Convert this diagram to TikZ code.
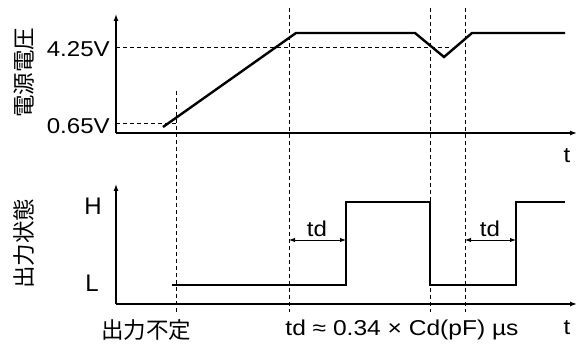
\documentclass[tikz,border=0pt]{standalone}
\usepackage{fontspec}
\setmainfont{Liberation Sans}
\newfontfamily\cjk{Noto Sans CJK JP}
\usetikzlibrary{arrows.meta}
\begin{document}
\begin{tikzpicture}[x=1pt,y=-1pt,
  axis/.style={line width=1.3pt,-{Latex[length=7pt,width=5pt]}},
  sig/.style={line width=2.4pt,line join=miter},
  guide/.style={line width=0.9pt,dash pattern=on 4pt off 3pt},
  dim/.style={line width=0.9pt,{Latex[length=6pt,width=4.5pt]}-{Latex[length=6pt,width=4.5pt]}},
  lbl/.style={font=\fontsize{21.5}{23}\selectfont,inner sep=0pt,xscale=1.12},
  big/.style={font=\fontsize{24}{26}\selectfont,inner sep=0pt},
  jl/.style={font=\cjk\fontsize{22.5}{24}\selectfont,inner sep=0pt}]
\useasboundingbox (0,0) rectangle (576,347);
% guides
\draw[guide] (116,47) -- (452,47);
\draw[guide] (116,123) -- (176,123);
\draw[guide] (176,91) -- (176,312);
\draw[guide] (289,8) -- (289,312);
\draw[guide] (430,8) -- (430,312);
\draw[guide] (465,8) -- (465,312);
% axes
\draw[axis] (116,133) -- (116,14);
\draw[axis] (116,133) -- (577,133);
\draw[axis] (116,304) -- (116,184);
\draw[axis] (116,304) -- (577,304);
% signals
\draw[sig] (163,127) -- (296,33) -- (415,33) -- (444,57) -- (472,33) -- (565,33);
\draw[sig] (172,285) -- (346,285) -- (346,202) -- (430,202) -- (430,285) -- (516,285) -- (516,202) -- (565,202);
% td arrows
\draw[dim] (289,240) -- (346,240);
\draw[dim] (465,240) -- (516,240);
\node[lbl] (td1) at (317,229) {td};
\node[lbl] (td2) at (490,229) {td};
% labels
\node[lbl,anchor=east] (v1) at (110,49) {4.25V};
\node[lbl,anchor=east] (v2) at (110,126) {0.65V};
\node[lbl] (t1) at (567,156) {t};
\node[lbl] (t2) at (567,328) {t};
\node[big] (H) at (93,206) {H};
\node[big] (L) at (92,283) {L};
\node[jl,rotate=90] (yv) at (24,73) {電源電圧};
\node[jl,rotate=90] (yo) at (24,244) {出力状態};
\node[jl] (und) at (146,330) {出力不定};
\node[lbl,xscale=1.02] (form) at (402,330) {td ≈ 0.34 × Cd(pF) µs};
\end{tikzpicture}
\end{document}
